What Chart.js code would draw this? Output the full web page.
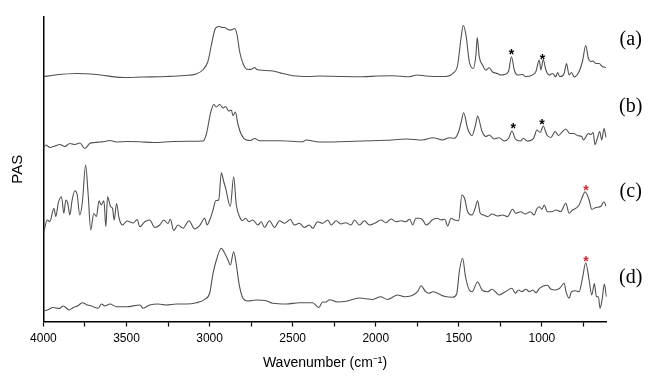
<!DOCTYPE html>
<html>
<head>
<meta charset="utf-8">
<title>PAS spectra</title>
<script src="https://cdn.jsdelivr.net/npm/chart.js"></script>
<style>
  body { margin: 0; background: #fff; }
  #spectra { display: block; }
</style>
</head>
<body>
<canvas id="spectra" width="650" height="377"></canvas>
<script>
// [wavenumber (cm-1), PAS signal] - traces already stacked, (a) on top
const traceA = [
  [4000,244.8],[3930,246.5],[3800,248],[3680,247],[3522,244],[3400,244.5],[3260,245],[3150,246],
  [3080,247.6],[3041,251.5],[3010,260],[2989,276.5],[2969,291.5],[2955,294.5],[2939,295],[2925,294],
  [2909,294],[2895,292.5],[2879,291.5],[2862,292],[2849,293],[2835,287],[2819,270],[2795,256.5],
  [2769,252],[2745,252.5],[2729,254],[2715,252],[2699,251.5],[2619,250.5],[2560,248],[2499,245.8],
  [2400,245],[2338,245.5],[2200,245],[2078,244.8],[1990,245.5],[1898,245.8],[1797,244.8],[1748,246.5],
  [1700,245.5],[1577,245],[1537,248],[1507,256.5],[1487,283],[1473,296],[1457,286.5],[1437,260],
  [1413,253],[1397,266.5],[1389,284],[1377,264.8],[1357,256.5],[1337,251.5],[1317,253.8],[1297,249.5],
  [1267,248],[1247,246.5],[1225,247],[1201,250],[1183,264.8],[1166,251.5],[1147,246.5],[1117,247],
  [1097,244.8],[1057,246.5],[1036,250],[1016,261.5],[1006,251.5],[992,262],[976,251.5],[956,246.5],
  [936,248],[916,244.8],[906,249],[892,244.8],[866,248],[852,258],[836,246.5],[822,249],
  [806,244.5],[776,250],[756,260],[736,276],[720,263],[706,260],[692,260.5],[676,258],
  [656,258],[636,255],[614,254]
];
const traceB = [
  [4000,173.8],[3985,176.5],[3961,174],[3931,175.5],[3901,177],[3871,175],[3841,178],[3811,177],
  [3781,178.5],[3751,173],[3721,178],[3691,179],[3661,179.5],[3630,180],[3600,181],[3560,179.5],
  [3500,180],[3420,179.8],[3340,179],[3220,180],[3120,180.3],[3040,180.5],[3019,187.5],[2995,207.8],
  [2975,217],[2959,214.5],[2939,217],[2919,213.5],[2903,215],[2885,210.5],[2869,211.5],[2859,205.8],
  [2845,209.5],[2829,197],[2809,187],[2779,181.5],[2755,181],[2729,183],[2699,180.8],[2579,180.8],
  [2439,179.8],[2420,181.5],[2338,179.5],[2218,179.8],[2078,180.5],[1937,181.2],[1817,182.5],[1717,181.5],
  [1657,183.8],[1597,181.5],[1557,183.8],[1527,183.2],[1501,189.8],[1485,200],[1471,208.8],[1447,193],
  [1421,185.8],[1400,196],[1387,205.5],[1361,190.5],[1337,185],[1317,186.5],[1287,182.5],[1257,183.8],
  [1227,180.5],[1200,183.2],[1180,190.5],[1160,182.5],[1130,180.5],[1110,183.2],[1090,180.5],[1050,183.2],
  [1030,191.5],[1010,189],[992,195.5],[970,186.5],[946,184],[920,190],[900,186],[876,190],
  [856,192.5],[832,188],[810,188],[782,185.8],[760,185],[750,181.5],[720,188],[705,187],
  [692,189],[680,176.8],[665,184],[652,190],[640,181.5],[626,193],[614,184]
];
const traceC = [
  [3997,89.8],[3977,101.5],[3961,100],[3937,113.2],[3925,105],[3911,118.2],[3891,124.8],[3877,108.2],
  [3865,121.5],[3853,118],[3841,106.5],[3827,121.5],[3811,130.8],[3797,127],[3781,106.5],[3765,120],
  [3746,156.5],[3731,128],[3715,91.5],[3697,108],[3681,105],[3665,120.8],[3652,116.5],[3636,120.8],
  [3624,94.8],[3614,124.8],[3596,115],[3584,113],[3574,101.5],[3560,118],[3544,103],[3524,96.5],
  [3496,100.5],[3460,98.5],[3436,102],[3420,94.8],[3390,99.8],[3360,101.5],[3330,94],[3300,96.5],
  [3276,101.5],[3250,98],[3236,102.2],[3216,91],[3190,96.5],[3160,93.2],[3124,100.8],[3090,92.5],
  [3060,95.8],[3029,103.2],[3015,96.5],[2999,101.5],[2979,111.5],[2963,120.8],[2945,121.5],[2929,148.8],
  [2915,140],[2903,133.2],[2875,115],[2855,144.8],[2839,116.5],[2819,104.8],[2803,100.8],[2783,103.2],
  [2763,99.8],[2740,101.5],[2709,96.5],[2689,99.8],[2669,94],[2640,100.8],[2609,94],[2579,100.8],
  [2549,98.2],[2514,102],[2490,96.5],[2460,98.2],[2429,94],[2400,96.5],[2379,93.2],[2350,99.8],
  [2320,98.2],[2288,101.5],[2268,96.5],[2238,100.8],[2210,97.5],[2180,98.8],[2148,96.5],[2128,101.5],
  [2098,96.5],[2068,100.8],[2038,96.5],[2000,98.8],[1968,101.5],[1938,98.8],[1908,102.5],[1878,99.8],
  [1848,100.8],[1820,99.8],[1795,102.2],[1778,96.5],[1758,103.2],[1737,103.2],[1717,101.5],[1697,96.5],
  [1680,98],[1661,101.5],[1630,103.2],[1607,101.5],[1585,102.2],[1567,95.5],[1547,103.2],[1525,101.5],
  [1501,100.8],[1481,126.5],[1465,123],[1447,109.8],[1421,106.5],[1405,111.5],[1387,120.8],[1371,108.2],
  [1350,106.5],[1327,104.8],[1300,107.5],[1267,105.5],[1237,106.5],[1207,104.8],[1177,112.2],[1157,108.2],
  [1127,109.8],[1100,107.5],[1070,109.8],[1046,106.5],[1032,112.2],[1016,114.8],[1000,112.2],[986,116.5],
  [967,109.8],[940,109.8],[915,111.5],[887,109.8],[856,118.2],[836,108.2],[816,111.5],[796,113.2],
  [776,116.5],[756,124.8],[740,129.8],[716,121.5],[700,112.2],[675,114],[645,115.2],[626,119.8],
  [614,115.2]
];
const traceD = [
  [3997,10.8],[3975,11.5],[3941,14],[3905,13],[3880,15.5],[3845,11.5],[3820,14],[3795,15.5],
  [3765,18.8],[3735,16.5],[3710,15.5],[3671,13.2],[3650,17.5],[3630,15.5],[3600,17.5],[3560,14.8],
  [3500,14.8],[3419,16.5],[3400,13.2],[3360,16.5],[3310,17.5],[3260,16.5],[3200,17.5],[3140,17.5],
  [3079,18.8],[3029,22.2],[2999,28.5],[2979,48.2],[2959,61.5],[2929,73.2],[2909,68.2],[2889,61.5],
  [2875,56.5],[2855,69.8],[2840,58],[2823,38.2],[2799,23.2],[2770,20.5],[2719,21.5],[2659,20.8],
  [2620,18.2],[2539,17.5],[2460,18.8],[2380,18.8],[2342,14],[2320,19.5],[2300,19.5],[2278,21.8],
  [2230,19.5],[2178,20.2],[2100,23.5],[2018,22],[1970,24.8],[1930,22],[1868,26.5],[1830,24.8],
  [1790,25.5],[1748,29.8],[1727,35.8],[1700,29.8],[1680,28.2],[1657,29.8],[1620,27.5],[1587,25.2],
  [1537,24.2],[1513,27.5],[1497,50],[1477,63.2],[1460,45],[1437,31.5],[1420,29.8],[1387,39.5],
  [1360,31.5],[1327,29.8],[1300,32.2],[1280,29.8],[1257,26.5],[1220,29.8],[1180,33.2],[1160,28.2],
  [1140,31.5],[1120,29.8],[1097,32.2],[1075,29.8],[1055,31.5],[1035,28.8],[1015,33.2],[967,36.2],
  [945,32.2],[920,31.5],[893,33.2],[866,38.2],[855,29.8],[836,23.2],[822,29.8],[800,30.8],
  [776,29.8],[756,43],[736,58.8],[716,41.5],[700,26.5],[684,38],[672,24.8],[660,24.8],
  [650,13.2],[638,21.5],[624,37.5],[612,24.8]
];

const traceLabels = ['(a)', '(b)', '(c)', '(d)'];
const labelLevels = [281.5, 214.5, 129.5, 43.5];
// tick marks every 250, numbers only every 500
const tickValues = [4000, 3750, 3500, 3250, 3000, 2750, 2500, 2250, 2000, 1750, 1500, 1250, 1000, 750];
const tickLabels = [4000, 3500, 3000, 2500, 2000, 1500, 1000];

// asterisks marking bands
const starWn = [1183, 997, 1172, 999, 735, 735];
const starLevel = [270.5, 265.8, 196.5, 200.5, 134.2, 63.8];
const starTrace = [0, 0, 1, 1, 2, 3];

const sansFont = '"Liberation Sans", Arial, sans-serif';
const lineColor = '#505050';

const toPoints = (rows) => rows.map(r => ({x: r[0], y: r[1]}));

/**
 * (a)-(d) labels and asterisks
 */
const annotate = {
  id: 'annotate',
  afterDatasetsDraw(chart) {
    const {ctx, chartArea, scales: {x, y}} = chart;
    ctx.save();
    ctx.fillStyle = '#000';
    ctx.font = '20px "Liberation Serif", "Times New Roman", serif';
    ctx.textAlign = 'center';
    ctx.textBaseline = 'middle';
    traceLabels.forEach((t, i) => {
      ctx.fillText(t, chartArea.right + 24, y.getPixelForValue(labelLevels[i]));
    });
    ctx.font = 'bold 14px ' + sansFont;
    ctx.textBaseline = 'alphabetic';
    starWn.forEach((w, i) => {
      ctx.fillStyle = starTrace[i] >= 2 ? '#d0282e' : '#000';
      ctx.fillText('*', x.getPixelForValue(w), y.getPixelForValue(starLevel[i]) + 8);
    });
    ctx.restore();
  }
};

const datasets = [traceA, traceB, traceC, traceD].map((rows, i) => ({
  label: traceLabels[i],
  data: toPoints(rows),
  borderColor: lineColor,
  borderWidth: 1.1,
  pointRadius: 0,
  cubicInterpolationMode: 'monotone',
  fill: false
}));

new Chart(document.getElementById('spectra'), {
  type: 'line',
  data: { datasets: datasets },
  options: {
    responsive: false,
    animation: false,
    devicePixelRatio: 1,
    layout: { padding: { left: 0, right: 43.3, top: 17, bottom: 0 } },
    plugins: {
      legend: { display: false },
      tooltip: { enabled: false }
    },
    scales: {
      x: {
        type: 'linear',
        reverse: true,
        min: 610,
        max: 4000,
        afterBuildTicks: s => { s.ticks = tickValues.map(v => ({ value: v })); },
        ticks: {
          autoSkip: false,
          maxRotation: 0,
          color: '#000',
          padding: 5,
          font: { family: sansFont, size: 12 },
          callback: v => tickLabels.includes(v) ? String(v) : ''
        },
        grid: { drawOnChartArea: false, drawTicks: true, tickLength: 5, color: '#000', tickWidth: 1.2 },
        border: { display: true, color: '#000', width: 1.5 },
        title: {
          display: true,
          text: 'Wavenumber (cm\u207B\u00B9)',
          color: '#000',
          font: { family: sansFont, size: 14 },
          padding: { top: 0, bottom: 5 }
        },
        afterFit: s => { s.height = 55.5; }
      },
      y: {
        min: 0,
        max: 304.5,
        ticks: { display: false },
        grid: { display: false },
        border: { display: true, color: '#000', width: 1.5 },
        title: {
          display: true,
          text: 'PAS',
          color: '#000',
          font: { family: sansFont, size: 15 },
          padding: { top: 9, bottom: 0 }
        },
        afterFit: s => { s.width = 43.4; }
      }
    }
  },
  plugins: [annotate]
});
</script>
</body>
</html>
